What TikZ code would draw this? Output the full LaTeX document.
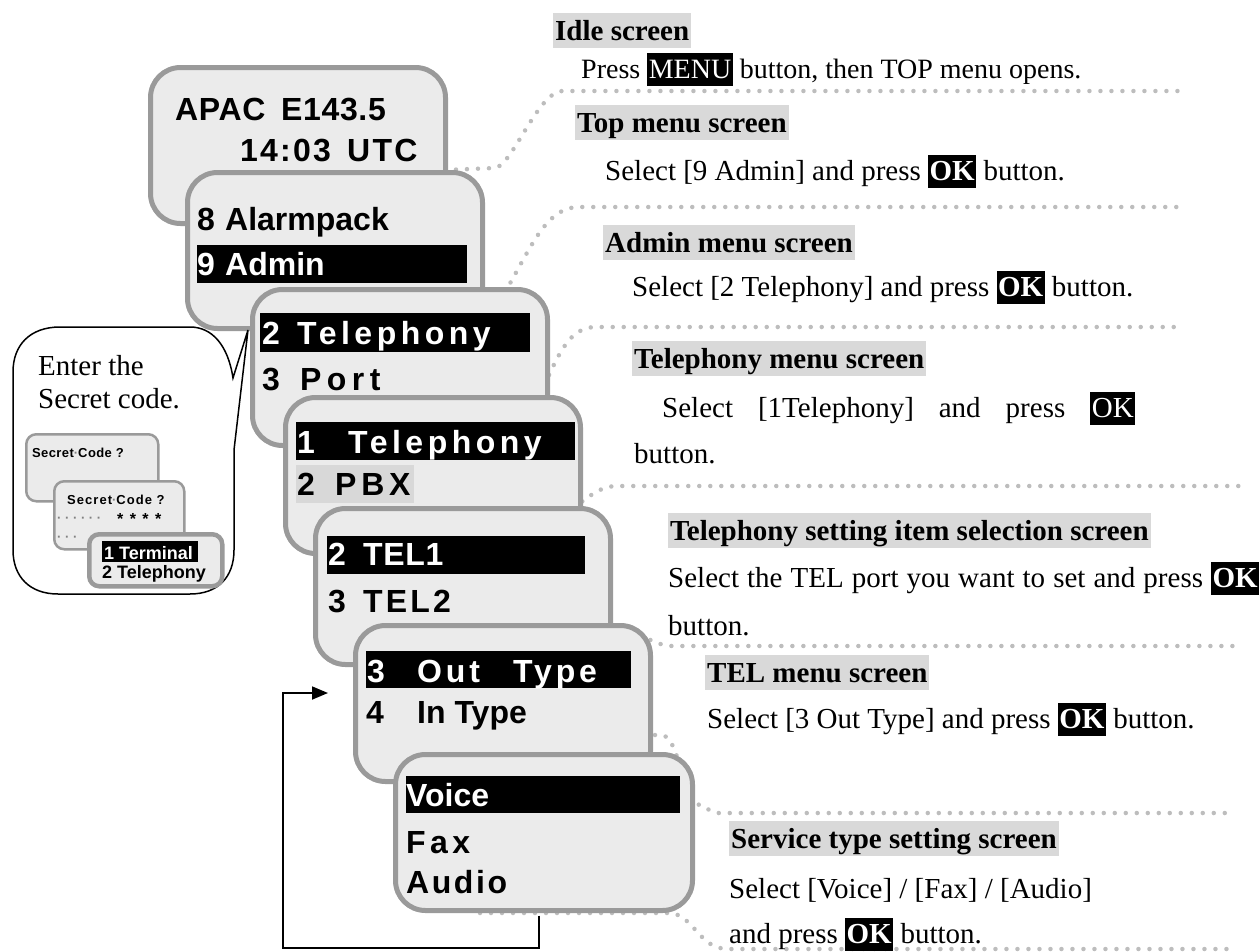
\documentclass[tikz,border=0pt]{standalone}
\usepackage{fontspec}
\setmainfont{Liberation Serif}
\newfontfamily\scrfam{Liberation Sans}
\usetikzlibrary{arrows.meta}
\definecolor{scrfill}{HTML}{EBEBEB}
\definecolor{scredge}{HTML}{9A9A9A}
\definecolor{titlebg}{HTML}{D9D9D9}
\definecolor{pbxbg}{HTML}{D8D8D8}
\definecolor{dotc}{HTML}{BDBDBD}
\newcommand\scrf[1]{\scrfam\bfseries\fontsize{32pt}{38pt}\selectfont\addfontfeature{LetterSpace=#1}}
\newcommand\minif[1]{\scrfam\bfseries\fontsize{13pt}{15pt}\selectfont\addfontfeature{LetterSpace=#1}}
\newcommand\bodyf{\fontsize{29pt}{35pt}\selectfont}
\newcommand\blk[1]{{\setlength\fboxsep{1.5pt}\colorbox{black}{\textcolor{white}{\rule[-6pt]{0pt}{30pt}#1}}}}
\tikzset{
  screen/.style={draw=scredge, fill=scrfill, line width=5pt, rounded corners=30pt,
    anchor=north west, inner sep=0pt, minimum width=295pt, minimum height=156pt},
  mini/.style={draw=scredge, fill=scrfill, line width=2.5pt, rounded corners=10pt,
    anchor=north west, inner sep=0pt},
  bar/.style={fill=black, anchor=north west, inner sep=0pt},
  stxt/.style={anchor=base west, inner sep=0pt, font={\scrf{#1}}},
  stxt/.default=0,
  wtxt/.style={stxt=#1, text=white},
  wtxt/.default=0,
  mtxt/.style={anchor=base west, inner sep=0pt, font={\minif{#1}}},
  mtxt/.default=0,
  body/.style={anchor=base west, inner sep=0pt, font=\bodyf},
  title/.style={fill=titlebg, anchor=base west, inner xsep=2pt, inner ysep=2pt,
    text height=25pt, text depth=6pt, font=\bfseries\bodyf},
  leader/.style={draw=dotc, line width=4.5pt, line cap=round, dash pattern=on 0pt off 11pt},
  loopline/.style={draw=black, line width=1.8pt, -{Triangle[length=16pt,width=13pt]}},
  bubble/.style={draw=black, line width=1.5pt, fill=white},
}
\begin{document}
\begin{tikzpicture}[x=1pt,y=-1pt]
\useasboundingbox (0,0) rectangle (1259,951);

% dotted leaders (behind the screens)
\draw[leader] (445,170) -- (495,168) .. controls (512,166) and (538,92) .. (562,91) -- (1178,91);
\draw[leader] (505,292) .. controls (530,250) and (545,208) .. (578,207) -- (1178,207);
\draw[leader] (540,395) .. controls (560,350) and (570,328) .. (595,327) -- (1178,327);
\draw[leader] (565,515) .. controls (590,495) and (600,487) .. (615,486) -- (1245,486);
\draw[leader] (600,618) .. controls (640,632) and (655,646) .. (672,646) -- (1236,646);
\draw[leader] (600,735) -- (662,735) .. controls (676,737) and (680,775) .. (690,795) -- (700,806) -- (717,813) -- (1232,813);
\draw[leader] (480,913) -- (672,913) .. controls (695,918) and (700,949) .. (728,949) -- (1232,949);

% screen 1: idle
\node[screen] (s1) at (148,65) {};
\node[stxt=2] (s1a) at (175,120) {APAC};
\node[stxt=2] (s1b) at (281,120) {E143.5};
\node[stxt=7] (s1c) at (240,161) {14:03};
\node[stxt=7] (s1d) at (347,161) {UTC};

% screen 2: top menu
\node[screen] (s2) at (185,170) {};
\node[stxt] (s2a) at (197,230) {8};
\node[stxt] (s2b) at (225,230) {Alarmpack};
\node[bar, minimum width=270pt, minimum height=38pt] (b2) at (197,245) {};
\node[wtxt] (s2c) at (197,275) {9};
\node[wtxt] (s2d) at (225,275) {Admin};

% screen 3: admin menu
\node[screen] (s3) at (250,287) {};
\node[bar, minimum width=270pt, minimum height=39pt] (b3) at (260,313) {};
\node[wtxt=14] (s3a) at (262,344) {2};
\node[wtxt=14] (s3b) at (297,344) {Telephony};
\node[stxt=17] (s3c) at (262,390) {3};
\node[stxt=17] (s3d) at (300,390) {Port};

% screen 4: telephony menu
\node[screen] (s4) at (283,395) {};
\node[bar, minimum width=279pt, minimum height=38pt] (b4) at (296,422) {};
\node[fill=pbxbg, anchor=north west, inner sep=0pt, minimum width=118pt, minimum height=38pt] (g4) at (296,465) {};
\node[wtxt=14] (s4a) at (297,453) {1};
\node[wtxt=14] (s4b) at (348,453) {Telephony};
\node[stxt=15] (s4c) at (297,495) {2};
\node[stxt=15] (s4d) at (335,495) {PBX};

% screen 5: telephony setting item selection
\node[screen] (s5) at (313,506) {};
\node[bar, minimum width=258pt, minimum height=38pt] (b5) at (327,536) {};
\node[wtxt=2] (s5a) at (328,565) {2};
\node[wtxt=2] (s5b) at (363,565) {TEL1};
\node[stxt=10] (s5c) at (328,612) {3};
\node[stxt=10] (s5d) at (363,612) {TEL2};

% screen 6: TEL menu
\node[screen] (s6) at (353,623) {};
\node[bar, minimum width=265pt, minimum height=37pt] (b6) at (366,651) {};
\node[wtxt=12] (s6a) at (367,682) {3};
\node[wtxt=12] (s6b) at (417,682) {Out};
\node[wtxt=12] (s6c) at (513,682) {Type};
\node[stxt] (s6d) at (366,723) {4};
\node[stxt] (s6e) at (417,723) {In Type};

% screen 7: service type
\node[screen, minimum width=297pt] (s7) at (393,752) {};
\node[bar, minimum width=274pt, minimum height=37pt] (b7) at (406,776) {};
\node[wtxt] (s7a) at (406,806) {Voice};
\node[stxt=14] (s7b) at (406,853) {Fax};
\node[stxt=8] (s7c) at (406,893) {Audio};

% loop back arrow
\coordinate (lr) at (539,948);
\coordinate (lb) at (283,948);
\coordinate (lt) at (283,693);
\coordinate (tip) at (328,693);
\draw[loopline] ([yshift=-2.5pt]s7.south -| lr) -- (lr) -- (lb) -- (lt) -- (tip);

% callout bubble
\draw[bubble] (233,378) -- (248,330) -- (234,450) -- (234,550)
  .. controls (234,577) and (218,594) .. (190,594) -- (58,594)
  .. controls (30,594) and (13,577) .. (13,550) -- (13,372)
  .. controls (13,345) and (30,327) .. (60,327) -- (190,327)
  .. controls (212,327) and (228,345) .. (233,378) -- cycle;
\node[body] (e1) at (38,375) {Enter the};
\node[body] (e2) at (38,408) {Secret code.};

\node[mini, minimum width=132pt, minimum height=67pt] (m1) at (25,433) {};
\node[mtxt=3] (m1a) at (32,457) {Secret\textcolor{gray}{·}Code ?};
\node[mini, minimum width=130pt, minimum height=68pt] (m2) at (53,480) {};
\node[mtxt=8] (m2a) at (67,504) {Secret\textcolor{gray}{·}Code ?};
\node[mtxt, text=gray] (m2b) at (57,522) {· · · · · ·};
\node[mtxt=40] (m2c) at (117,524) {\fontsize{16pt}{18pt}\selectfont ****};
\node[mtxt, text=gray] (m2d) at (57,541) {· · ·};
\node[mini, line width=4.5pt, minimum width=133pt, minimum height=52pt] (m3) at (87,532) {};
\node[bar, minimum width=96pt, minimum height=21pt] (mb3) at (102,541) {};
\node[anchor=base west, inner sep=0pt, text=white, font=\scrfam\bfseries\fontsize{18pt}{20pt}\selectfont] (m3a) at (104,559) {1 Terminal};
\node[anchor=base west, inner sep=0pt, font=\scrfam\bfseries\fontsize{18pt}{20pt}\selectfont] (m3b) at (102,578) {2 Telephony};

% right-hand descriptions
\node[title] (h1) at (553,40) {Idle screen};
\node[body] (p1) at (581,78) {\fontsize{28pt}{34pt}\selectfont Press \blk{MENU} button, then TOP menu opens.};
\node[title] (h2) at (575,132) {Top menu screen};
\node[body] (p2) at (605,180) {Select [9 Admin] and press \blk{\textbf{OK}} button.};
\node[title] (h3) at (603,252) {Admin menu screen};
\node[body] (p3) at (632,296) {Select [2 Telephony] and press \blk{\textbf{OK}} button.};
\node[title] (h4) at (632,368) {Telephony menu screen};
\node[body] (p4) at (662,417) {\makebox[473pt][s]{Select [1Telephony] and press \blk{OK}}};
\node[body] (p4b) at (634,463) {button.};
\node[title] (h5) at (668,540) {Telephony setting item selection screen};
\node[body] (p5) at (668,587) {\makebox[591pt][s]{Select the TEL port you want to set and press \blk{\textbf{OK}}}};
\node[body] (p5b) at (668,635) {button.};
\node[title] (h6) at (705,682) {TEL menu screen};
\node[body] (p6) at (707,728) {Select [3 Out Type] and press \blk{\textbf{OK}} button.};
\node[title] (h7) at (729,848) {Service type setting screen};
\node[body] (p7) at (729,898) {Select [Voice] / [Fax] / [Audio]};
\node[body] (p7b) at (729,943) {and press \blk{\textbf{OK}} button.};
\end{tikzpicture}
\end{document}
